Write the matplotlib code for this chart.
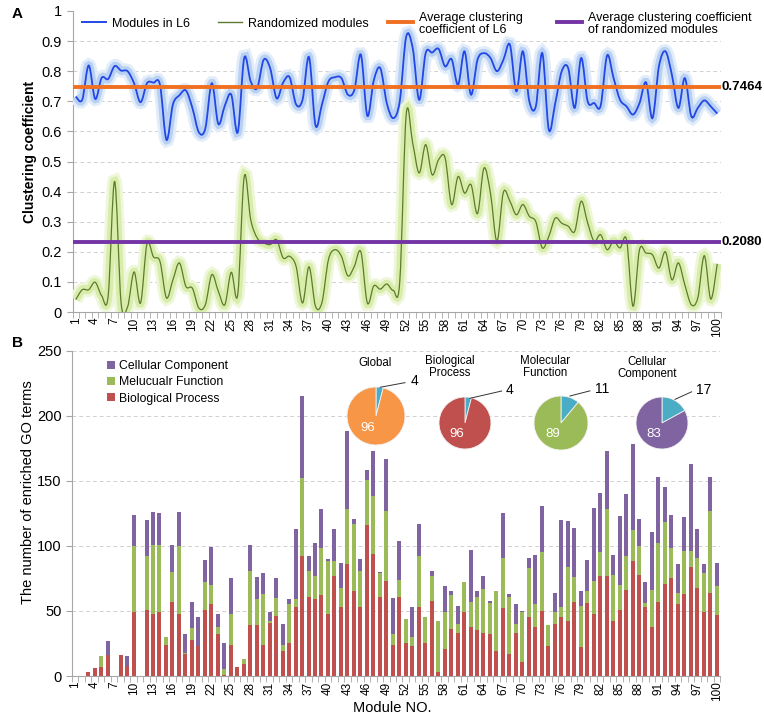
import matplotlib.pyplot as plt
import matplotlib.patheffects as pe
import numpy as np
from matplotlib.lines import Line2D
from matplotlib.patches import PathPatch
from matplotlib.path import Path

plt.rcParams["font.family"] = ["Liberation Sans", "DejaVu Sans"]

W, H = 764, 724

modules = np.arange(1, 101)
tick_modules = np.arange(1, 101, 3)

# panel A: clustering coefficient per module
cc_l6 = [0.716, 0.705, 0.819, 0.708, 0.778, 0.774, 0.817, 0.802, 0.800, 0.760,
         0.697, 0.760, 0.762, 0.755, 0.572, 0.690, 0.720, 0.736, 0.678, 0.597,
         0.610, 0.760, 0.625, 0.685, 0.722, 0.597, 0.844, 0.766, 0.744, 0.838,
         0.810, 0.710, 0.762, 0.780, 0.690, 0.705, 0.847, 0.620, 0.690, 0.766,
         0.780, 0.777, 0.722, 0.738, 0.855, 0.652, 0.770, 0.810, 0.694, 0.644,
         0.700, 0.915, 0.877, 0.705, 0.860, 0.862, 0.874, 0.816, 0.840, 0.755,
         0.866, 0.722, 0.838, 0.860, 0.844, 0.800, 0.838, 0.888, 0.733, 0.866,
         0.700, 0.683, 0.860, 0.606, 0.694, 0.800, 0.810, 0.678, 0.844, 0.700,
         0.694, 0.685, 0.852, 0.777, 0.705, 0.683, 0.656, 0.694, 0.763, 0.644,
         0.816, 0.866, 0.788, 0.678, 0.777, 0.650, 0.678, 0.703, 0.683, 0.659]

cc_rand = [0.041, 0.074, 0.074, 0.099, 0.054, 0.052, 0.434, 0.030, 0.017, 0.133,
           0.030, 0.227, 0.183, 0.168, 0.047, 0.107, 0.163, 0.085, 0.079, 0.013,
           0.024, 0.124, 0.069, 0.024, 0.132, 0.058, 0.450, 0.307, 0.246, 0.230,
           0.224, 0.240, 0.180, 0.185, 0.152, 0.030, 0.150, 0.019, 0.032, 0.174,
           0.207, 0.185, 0.120, 0.152, 0.200, 0.030, 0.087, 0.076, 0.093, 0.072,
           0.100, 0.656, 0.561, 0.462, 0.556, 0.456, 0.506, 0.512, 0.357, 0.450,
           0.395, 0.423, 0.327, 0.478, 0.395, 0.235, 0.398, 0.368, 0.323, 0.357,
           0.318, 0.300, 0.213, 0.251, 0.312, 0.295, 0.285, 0.268, 0.368, 0.296,
           0.235, 0.257, 0.207, 0.235, 0.213, 0.240, 0.019, 0.207, 0.196, 0.190,
           0.146, 0.200, 0.107, 0.163, 0.090, 0.024, 0.047, 0.187, 0.043, 0.160]

avg_l6 = 0.7464
avg_rand_line = 0.231   # where the line is drawn in the figure
avg_labels = ["0.7464", "0.2080"]

# panel B: enriched GO terms per module
bp = np.array([0, 0, 3, 6, 7, 16, 0, 16, 8, 49,
               0, 51, 48, 49, 24, 57, 48, 17, 28, 23,
               51, 55, 32, 1, 24, 7, 9, 39, 39, 24,
               41, 46, 19, 25, 53, 92, 61, 59, 62, 48,
               77, 53, 86, 65, 53, 116, 94, 61, 73, 24,
               61, 25, 23, 53, 25, 58, 3, 21, 36, 33,
               49, 38, 35, 33, 32, 19, 52, 17, 33, 11,
               45, 38, 50, 23, 40, 45, 42, 57, 22, 56,
               48, 77, 77, 42, 51, 66, 88, 78, 53, 38,
               57, 71, 75, 55, 63, 84, 68, 49, 64, 47])
mf = np.array([0, 0, 0, 0, 8, 0, 0, 0, 0, 51,
               0, 41, 53, 52, 6, 23, 52, 1, 9, 0,
               21, 15, 6, 4, 24, 0, 4, 42, 20, 39,
               1, 14, 5, 30, 6, 60, 20, 18, 36, 40,
               11, 15, 42, 52, 28, 35, 44, 18, 54, 8,
               13, 19, 7, 39, 20, 19, 39, 28, 26, 7,
               23, 19, 26, 34, 24, 46, 39, 44, 7, 38,
               38, 17, 45, 16, 9, 8, 42, 19, 32, 9,
               25, 18, 51, 36, 19, 26, 24, 22, 3, 28,
               45, 47, 23, 9, 33, 12, 23, 30, 63, 22])
cc = np.array([0, 0, 0, 0, 0, 11, 0, 0, 7, 24,
               0, 28, 25, 24, 0, 21, 26, 14, 20, 22,
               17, 29, 10, 20, 27, 0, 0, 20, 17, 16,
               7, 15, 16, 4, 54, 63, 11, 25, 30, 2,
               25, 19, 60, 4, 9, 7, 35, 1, 40, 28,
               30, 0, 23, 25, 0, 4, 0, 20, 3, 14,
               0, 40, 4, 10, 2, 0, 34, 2, 15, 1,
               8, 38, 36, 0, 15, 67, 35, 38, 11, 24,
               56, 46, 45, 15, 53, 48, 66, 21, 16, 45,
               51, 27, 26, 22, 26, 67, 22, 7, 26, 18])

pie_titles = ["Global", "Biological\nProcess", "Molecular\nFunction", "Cellular\nComponent"]
pie_small = [4, 4, 11, 17]
pie_big = [96, 96, 89, 83]
pie_colors = ["#f79646", "#c0504d", "#9bbb59", "#8064a2"]

C_RED, C_GREEN, C_PURPLE, C_TEAL = "#c0504d", "#9bbb59", "#8064a2", "#4bacc6"


def fx(p):
    return p / W


def fy(p):
    return 1 - p / H


def smooth_path(x, y):
    # excel-like smoothed line: cubic bezier through every point
    x = np.asarray(x, float)
    y = np.asarray(y, float)
    xp = np.concatenate([[x[0]], x, [x[-1]]])
    yp = np.concatenate([[y[0]], y, [y[-1]]])
    verts = [(x[0], y[0])]
    codes = [Path.MOVETO]
    for i in range(len(x) - 1):
        c1 = (x[i] + (xp[i + 2] - xp[i]) / 6, y[i] + (yp[i + 2] - yp[i]) / 6)
        c2 = (x[i + 1] - (xp[i + 3] - xp[i + 1]) / 6, y[i + 1] - (yp[i + 3] - yp[i + 1]) / 6)
        verts += [c1, c2, (x[i + 1], y[i + 1])]
        codes += [Path.CURVE4] * 3
    return Path(verts, codes)


def style_axes(ax):
    for s in ["top", "right"]:
        ax.spines[s].set_visible(False)
    for s in ["left", "bottom"]:
        ax.spines[s].set_color("#a6a6a6")
    ax.set_xlim(0.5, 100.5)
    ax.set_xticks(tick_modules)
    ax.set_xticklabels([str(m) for m in tick_modules], rotation=90, fontsize=8.5)
    ax.set_xticks(np.arange(0.5, 101, 1), minor=True)
    ax.tick_params(axis="x", which="major", length=0, pad=4)
    ax.tick_params(axis="x", which="minor", length=4, color="#a6a6a6")
    ax.tick_params(axis="y", length=4, color="#a6a6a6", labelsize=10.5)


fig = plt.figure(figsize=(W / 100, H / 100), dpi=100)

# ---------------- panel A ----------------
ax1 = fig.add_axes([fx(72.5), fy(312), 648 / W, 301 / H])
style_axes(ax1)
ax1.set_ylim(0, 1)
yt = np.round(np.arange(0, 1.01, 0.1), 1)
ax1.set_yticks(yt)
ax1.set_yticklabels(["0"] + [f"{v:.1f}" for v in yt[1:-1]] + ["1"])
for v in yt[1:-1]:
    ax1.axhline(v, color="#d0d0d0", lw=0.7, ls=(0, (4, 3)), zorder=0)

ax1.add_patch(PathPatch(smooth_path(modules, cc_l6), fill=False, ec="#2347e6", lw=1.3, zorder=3,
                        path_effects=[pe.Stroke(linewidth=10, foreground="#e3edfa"),
                                      pe.Stroke(linewidth=6, foreground="#b8d1f3"),
                                      pe.Normal()]))
ax1.add_patch(PathPatch(smooth_path(modules, cc_rand), fill=False, ec="#5d7a2e", lw=0.9, zorder=3,
                        path_effects=[pe.Stroke(linewidth=10, foreground="#eff7da"),
                                      pe.Stroke(linewidth=6, foreground="#d8edaa"),
                                      pe.Normal()]))
ax1.axhline(avg_l6, color="#f07022", lw=2.8, zorder=4)
ax1.axhline(avg_rand_line, color="#7434a6", lw=2.8, zorder=4)
ax1.text(100.6, avg_l6, avg_labels[0], fontsize=9.5, fontweight="bold", va="center", ha="left", clip_on=False)
ax1.text(100.6, avg_rand_line, avg_labels[1], fontsize=9.5, fontweight="bold", va="center", ha="left", clip_on=False)

fig.text(fx(30), fy(152), "Clustering coefficient", rotation=90, fontsize=10, fontweight="bold",
         ha="center", va="center")

# legend of panel A
leg_items = [(82, 106, "#2347e6", 1.4, "Modules in L6"),
             (218, 242, "#5d7a2e", 1.0, "Randomized modules"),
             (388, 413, "#f07022", 2.8, "Average clustering\ncoefficient of L6"),
             (557, 582, "#7434a6", 2.8, "Average clustering coefficient\nof randomized modules")]
for x0, x1, col, lw, lab in leg_items:
    fig.add_artist(Line2D([fx(x0), fx(x1)], [fy(22), fy(22)], color=col, lw=lw, transform=fig.transFigure))
    fig.text(fx(x1 + 6), fy(24), lab, fontsize=9, ha="left", va="center", linespacing=1.1)

# ---------------- panel B ----------------
ax2 = fig.add_axes([fx(72), fy(676), 648 / W, 325.3 / H])
style_axes(ax2)
ax2.set_ylim(0, 250)
ax2.set_yticks(np.arange(0, 251, 50))
for v in np.arange(50, 251, 50):
    ax2.axhline(v, color="#d0d0d0", lw=0.7, ls=(0, (4, 3)), zorder=0)

b1 = ax2.bar(modules, bp, width=0.62, color=C_RED, zorder=2)
b2 = ax2.bar(modules, mf, bottom=bp, width=0.62, color=C_GREEN, zorder=2)
b3 = ax2.bar(modules, cc, bottom=bp + mf, width=0.62, color=C_PURPLE, zorder=2)
ax2.legend([b3, b2, b1], ["Cellular Component", "Melucualr Function", "Biological Process"],
           loc="upper left", bbox_to_anchor=(0.045, 0.99), frameon=False, fontsize=8.8,
           handlelength=0.6, handleheight=0.6, handletextpad=0.35, labelspacing=0.35, borderpad=0)

fig.text(fx(28), fy(492), "The number of enriched GO terms", rotation=90, fontsize=10.5,
         ha="center", va="center")
fig.text(fx(392), fy(708), "Module NO.", fontsize=10.5, ha="center", va="center")

# pies
pie_geo = [(376, 416, 29), (465, 423, 26), (561, 423, 27), (662, 423, 26)]
title_pos = [(375, 363), (450, 367), (545, 367), (647, 368)]
leader = [((0.14, 0.99), (1.0, 1.15), (1.2, 1.22)),
          ((0.19, 0.95), (1.41, 1.23), (1.55, 1.28)),
          ((0.33, 1.0), (1.07, 1.19), (1.25, 1.25)),
          ((0.5, 0.91), (1.14, 1.2), (1.3, 1.26))]
for i in range(4):
    cx, cy, r = pie_geo[i]
    pax = fig.add_axes([fx(cx - r), fy(cy + r), 2 * r / W, 2 * r / H])
    pax.pie([pie_small[i], pie_big[i]], colors=[C_TEAL, pie_colors[i]], startangle=90,
            counterclock=False, wedgeprops=dict(edgecolor="#f2f2f2", linewidth=0.6))
    pax.set_xlim(-1, 1)
    pax.set_ylim(-1, 1)
    pax.text(-0.3, -0.42, str(pie_big[i]), color="white", fontsize=9.5, ha="center", va="center")
    (p0, p1, pt) = leader[i]
    pax.plot([p0[0], p1[0]], [p0[1], p1[1]], color="#333333", lw=0.7, clip_on=False)
    pax.text(pt[0], pt[1], str(pie_small[i]), fontsize=10, ha="left", va="center", clip_on=False)
    fig.text(fx(title_pos[i][0]), fy(title_pos[i][1]), pie_titles[i], fontsize=8.3, ha="center",
             va="center", linespacing=1.05)

fig.text(fx(12), fy(14), "A", fontsize=11, fontweight="bold", ha="left", va="center")
fig.text(fx(12), fy(343), "B", fontsize=11, fontweight="bold", ha="left", va="center")

fig.savefig("out.png", dpi=100, facecolor="white")
